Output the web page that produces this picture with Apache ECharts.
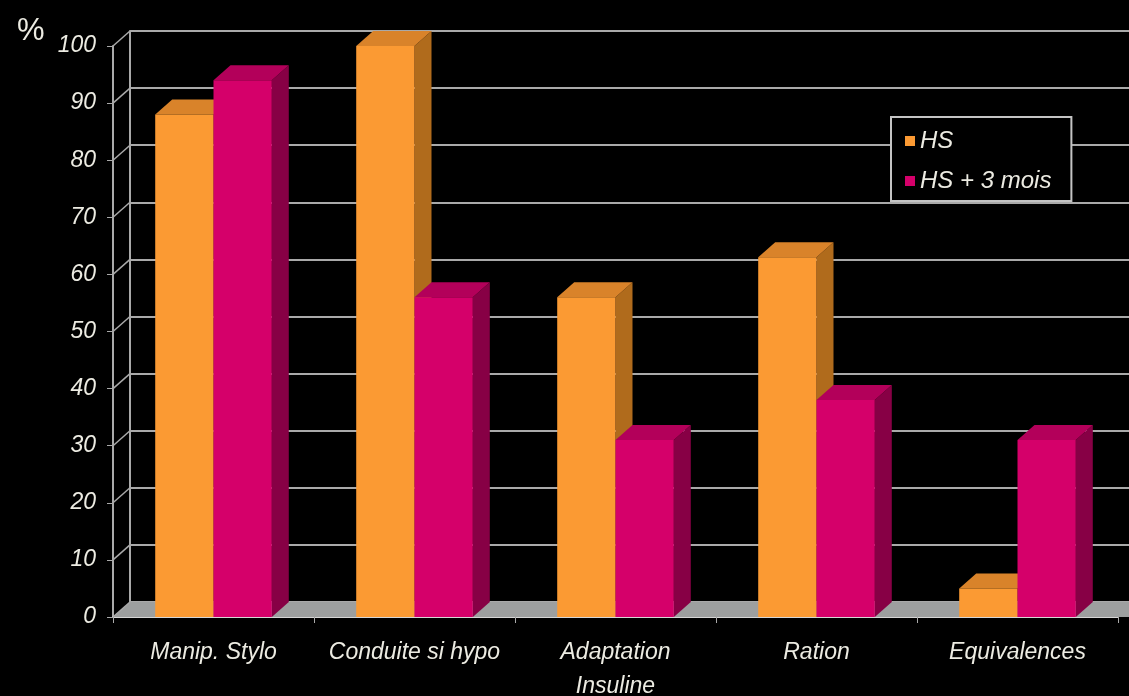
<!DOCTYPE html>
<html>
<head>
<meta charset="utf-8">
<script src="https://cdn.jsdelivr.net/npm/echarts@6/dist/echarts.min.js"></script>
<style>
  html, body { margin: 0; padding: 0; background: #000; }
  #chart { width: 1129px; height: 696px; }
</style>
</head>
<body>
<div id="chart"></div>
<script>
const categories = ["Manip. Stylo", "Conduite si hypo", "Adaptation\nInsuline", "Ration", "Equivalences"];
const hsValues = [88, 100, 56, 63, 5];
const hs3Values = [94, 56, 31, 38, 31];
const yTicks = [0, 10, 20, 30, 40, 50, 60, 70, 80, 90, 100];

// depth of the fake 3D look
const DX = 17;
const DY = 15;
const textColor = "#ecebe2";
const font = "Liberation Sans";

function bar3d(side, faces) {
  return (params, api) => {
    const idx = api.value(0);
    const v = api.value(1);
    const base = api.coord([idx, 0]);
    const top = api.coord([idx, v]);
    const bw = api.size([1, 0])[0] * 0.29;
    const x0 = side < 0 ? base[0] - bw : base[0];
    const x1 = x0 + bw;
    const yb = base[1];
    const yt = top[1];
    return {
      type: "group",
      children: [
        {
          type: "polygon",
          shape: { points: [[x1, yb], [x1 + DX, yb - DY], [x1 + DX, yt - DY], [x1, yt]] },
          style: { fill: faces.side },
        },
        {
          type: "polygon",
          shape: { points: [[x0, yt], [x0 + DX, yt - DY], [x1 + DX, yt - DY], [x1, yt]] },
          style: { fill: faces.top },
        },
        {
          type: "rect",
          shape: { x: x0, y: yt, width: bw, height: yb - yt },
          style: { fill: faces.front },
        },
      ],
    };
  };
}

const orange = { front: "#fb9a33", top: "#d9832a", side: "#b06b1c" };
const magenta = { front: "#d5006a", top: "#b3005a", side: "#870045" };

const chart = echarts.init(document.getElementById("chart"));
chart.setOption({
  animation: false,
  backgroundColor: "#000",
  title: {
    text: "%",
    left: 12,
    top: 11,
    textStyle: { color: textColor, fontSize: 31, fontWeight: "normal", fontFamily: font },
  },
  legend: {
    orient: "vertical",
    left: 891,
    top: 117,
    padding: [12, 20, 8, 14],
    itemGap: 16,
    itemWidth: 10,
    itemHeight: 10,
    icon: "rect",
    backgroundColor: "#000",
    borderColor: "#c4c4c4",
    borderWidth: 2,
    borderRadius: 0,
    textStyle: { color: textColor, fontSize: 24, fontStyle: "italic", fontFamily: font },
    data: ["HS", "HS + 3 mois"],
  },
  grid: [
    // front plane
    { left: 113, right: 11, top: 46, bottom: 79, containLabel: false, outerBoundsMode: "none" },
    // back wall
    { left: 130, right: -6, top: 31, bottom: 94, containLabel: false, outerBoundsMode: "none" },
  ],
  xAxis: [
    {
      type: "category",
      gridIndex: 0,
      data: categories,
      axisLine: { lineStyle: { color: "#d6d6d6", width: 2 } },
      axisTick: { show: true, length: 6, interval: 0, lineStyle: { color: "#aaa" } },
      axisLabel: {
        interval: 0,
        margin: 19,
        color: textColor,
        fontSize: 23,
        fontStyle: "italic",
        fontFamily: font,
        lineHeight: 34,
      },
    },
    {
      type: "category",
      gridIndex: 1,
      data: categories,
      axisLine: { show: false },
      axisTick: { show: false },
      axisLabel: { show: false },
    },
  ],
  yAxis: [
    {
      type: "value",
      gridIndex: 0,
      min: 0,
      max: 100,
      interval: 10,
      axisLine: { show: true, lineStyle: { color: "#a9a9a9", width: 2 } },
      axisTick: { show: true, length: 6, lineStyle: { color: "#a9a9a9" } },
      axisLabel: {
        margin: 17,
        color: textColor,
        fontSize: 23,
        fontStyle: "italic",
        fontFamily: font,
      },
      splitLine: { show: false },
    },
    {
      type: "value",
      gridIndex: 1,
      min: 0,
      max: 100,
      interval: 10,
      axisLine: { show: true, lineStyle: { color: "#a9a9a9", width: 2 } },
      axisTick: { show: false },
      axisLabel: { show: false },
      splitLine: { show: true, lineStyle: { color: "#a9a9a9", width: 2 } },
    },
  ],
  series: [
    {
      // floor and slanted ticks
      type: "custom",
      xAxisIndex: 0,
      yAxisIndex: 0,
      z: 1,
      silent: true,
      data: yTicks.map((v) => [0, v]),
      renderItem: (params, api) => {
        const cs = params.coordSys;
        const p = api.coord([0, api.value(1)]);
        const children = [
          {
            type: "line",
            shape: { x1: cs.x, y1: p[1], x2: cs.x + DX, y2: p[1] - DY },
            style: { stroke: "#a9a9a9", lineWidth: 1.5 },
          },
        ];
        if (params.dataIndex === 0) {
          const yf = cs.y + cs.height;
          const xr = cs.x + cs.width + DX;
          children.unshift({
            type: "polygon",
            shape: { points: [[cs.x, yf], [xr, yf], [xr + DX, yf - DY], [cs.x + DX, yf - DY]] },
            style: { fill: "#9d9f9f" },
          });
        }
        return { type: "group", children };
      },
    },
    {
      name: "HS",
      type: "custom",
      xAxisIndex: 0,
      yAxisIndex: 0,
      z: 2,
      itemStyle: { color: orange.front },
      data: hsValues.map((v, i) => [i, v]),
      renderItem: bar3d(-1, orange),
    },
    {
      name: "HS + 3 mois",
      type: "custom",
      xAxisIndex: 0,
      yAxisIndex: 0,
      z: 3,
      itemStyle: { color: magenta.front },
      data: hs3Values.map((v, i) => [i, v]),
      renderItem: bar3d(1, magenta),
    },
  ],
});
</script>
</body>
</html>
